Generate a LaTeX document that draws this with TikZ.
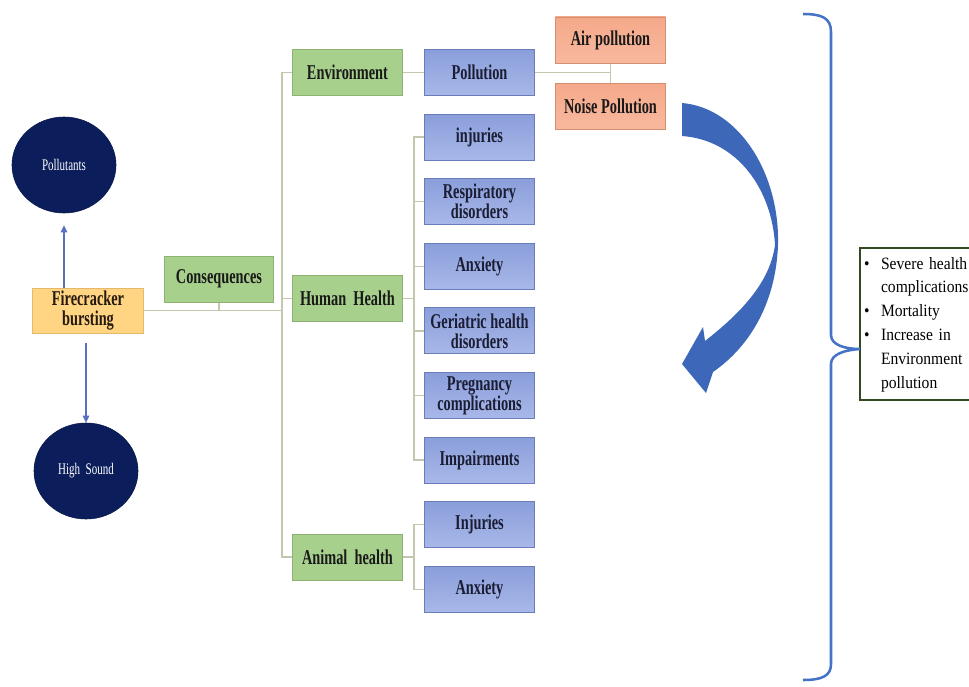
\documentclass[tikz,border=0pt]{standalone}
\usepackage{fontspec}
\setmainfont{Liberation Serif}
\newfontfamily\boxfont[FakeStretch=0.68]{Liberation Serif}
\newfontfamily\notefont[FakeStretch=0.9]{Liberation Serif}
\usepackage{tikz}
\usetikzlibrary{shapes.geometric, arrows.meta, positioning, calc}

\definecolor{greenfill}{HTML}{A8D08D}
\definecolor{greenline}{HTML}{8EB274}
\definecolor{bluetop}{HTML}{8A9EDA}
\definecolor{bluebot}{HTML}{A9B8E9}
\definecolor{blueline}{HTML}{6B7DB8}
\definecolor{bluetext}{HTML}{1A1D33}
\definecolor{redtop}{HTML}{F5A98A}
\definecolor{redbot}{HTML}{F8B89E}
\definecolor{redline}{HTML}{D48F70}
\definecolor{firefill}{HTML}{FFD482}
\definecolor{fireline}{HTML}{E5B86A}
\definecolor{navy}{HTML}{0B1E5B}
\definecolor{linkgray}{HTML}{C2C7AE}
\definecolor{arrowblue}{HTML}{5870C0}
\definecolor{bigblue}{HTML}{3D67B9}
\definecolor{braceblue}{HTML}{4573C5}
\definecolor{noteline}{HTML}{304A22}

\begin{document}
\begin{tikzpicture}[
  x=0.025cm, y=-0.025cm,
  box/.style={rectangle, line width=0.7pt, minimum width=2.75cm, minimum height=1.15cm, inner sep=2pt, align=center, font=\boxfont\fontsize{15}{14.2}\selectfont\bfseries, text=black!90},
  greenbox/.style={box, fill=greenfill, draw=greenline},
  bluebox/.style={box, top color=bluetop, bottom color=bluebot, draw=blueline, text=bluetext},
  redbox/.style={box, top color=redtop, bottom color=redbot, draw=redline},
  firebox/.style={box, fill=firefill, draw=fireline, minimum height=1.125cm, text=black!80!brown},
  dotnode/.style={ellipse, fill=navy, draw=navy!80!black, minimum width=2.6cm, minimum height=2.4cm, text=white, font=\boxfont\fontsize{11.5}{12}\selectfont},
  note/.style={rectangle, draw=noteline, line width=1.4pt, fill=white, text width=3.25cm, minimum height=3.8cm, inner xsep=3pt, align=left, font=\notefont\fontsize{12.3}{17}\selectfont},
  link/.style={draw=linkgray, line width=1pt},
  vline/.style={-{Triangle[length=5pt, width=4.5pt]}, draw=arrowblue, line width=1.3pt},
]
\useasboundingbox (0,0) rectangle (969,686);

% ── blue column: Pollution and the health effects ──
\node[bluebox] (pollution) at (479.5,72.5) {Pollution};
\node[bluebox, below=0.44cm of pollution] (injuries) {injuries};
\node[bluebox, below=0.44cm of injuries] (resp) {Respiratory\\disorders};
\node[bluebox, below=0.44cm of resp] (anx) {Anxiety};
\node[bluebox, below=0.44cm of anx] (geri) {Geriatric health\\disorders};
\node[bluebox, below=0.44cm of geri] (preg) {Pregnancy\\complications};
\node[bluebox, below=0.44cm of preg] (impair) {Impairments};
\node[bluebox, below=0.44cm of impair] (ainj) {Injuries};
\node[bluebox, below=0.44cm of ainj] (aanx) {Anxiety};

% ── green column ──
\node[greenbox, left=0.525cm of pollution] (env) {Environment};
\node[greenbox, left=0.525cm of $(anx.west)!0.5!(geri.west)$] (human) {Human~~Health};
\node[greenbox, left=0.525cm of $(ainj.west)!0.5!(aanx.west)$] (animal) {Animal~~health};
\node[greenbox, minimum width=2.7cm] (cons) at (219,279) {Consequences};

% ── source and its two effects ──
\node[firebox] (fire) at (88,310.5) {Firecracker\\bursting};
\node[dotnode] (pollutants) at (64,165) {Pollutants};
\node[dotnode] (sound) at (86,471) {High~~Sound};

% ── pollution types ──
\node[redbox] (air) at (610.5,40) {Air pollution};
\node[redbox, below=0.475cm of air] (noise) {Noise Pollution};

% ── outcome box ──
\node[note, anchor=west] (outcome) at (859,324) {%
  \begin{tabular}{@{}p{12pt}@{}l@{}}
  \textbullet & Severe health\\
              & complications\\
  \textbullet & Mortality\\
  \textbullet & Increase in\\
              & Environment\\
              & pollution
  \end{tabular}};

% ── TREE LINKS ──
\coordinate (trunk) at ($(env.west)+(-10,0)$);
\draw[link] (env.west) -- (trunk) |- (animal.west);
\draw[link] (human.west) -- (human.west -| trunk);
\draw[link] (fire.east) -- (fire.east -| trunk);
\draw[link] (cons.south) -- (cons.south |- fire.east);
\draw[link] (env) -- (pollution);
\draw[link] (pollution.east) -- (pollution.east -| air.south);
\draw[link] (air.south) -- (noise.north);

% Human health -> list
\draw[link] (injuries.west) -- ++(-10,0) coordinate (hbus) |- (impair.west);
\foreach \n in {resp,anx,geri,preg}
  \draw[link] (\n.west) -- (\n.west -| hbus);
\draw[link] (human.east) -- (human.east -| hbus);

% Animal health -> list
\draw[link] (ainj.west) -- ++(-10,0) coordinate (abus) |- (aanx.west);
\draw[link] (animal.east) -- (animal.east -| abus);

% ── ARROWS from the source ──
\draw[vline, shorten >=8.5pt] (fire.north -| pollutants) -- (pollutants.south);
\draw[vline, shorten <=6.4pt] (fire.south -| sound) -- (sound.north);

% ── big curved arrow ──
\fill[bigblue] (682,103) .. controls (740,108) and (780,175) .. (778,245)
  .. controls (776,300) and (752,345) .. (713,372) -- (706,393) -- (682,364)
  -- (703,327) -- (705,341) .. controls (742,312) and (770,282) .. (775,245)
  .. controls (772,190) and (738,140) .. (682,136) -- cycle;

% ── brace ──
\coordinate (tip) at (860,349);
\draw[braceblue, line width=1.8pt] (803,14) .. controls (822,14) and (831,18) .. (831,32)
  -- (831,335) .. controls (831,345) and (845,349) .. (tip)
  .. controls (845,350) and (831,354) .. (831,364)
  -- (831,664) .. controls (831,676) and (822,680) .. (803,680);

\end{tikzpicture}
\end{document}
